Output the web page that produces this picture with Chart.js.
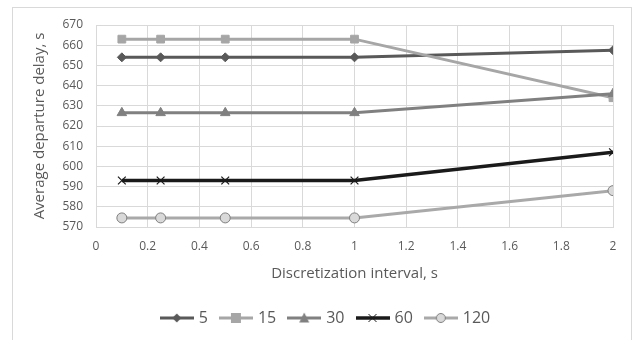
<!DOCTYPE html>
<html>
<head>
<meta charset="utf-8">
<script src="https://cdn.jsdelivr.net/npm/chart.js@4/dist/chart.umd.min.js"></script>
<style>
  html, body { margin: 0; padding: 0; background: #fff; overflow: hidden; }
  #frame { position: absolute; left: 12px; top: 7px; width: 620px; height: 400px; border: 1px solid #d9d9d9; box-sizing: border-box; }
  #chart { position: absolute; left: 0; top: 0; }
</style>
</head>
<body>
<div id="frame"></div>
<canvas id="chart" width="636" height="340"></canvas>
<script>
// discretization interval (s) on the x axis
const intervals = [0.1, 0.25, 0.5, 1, 2];
const seriesNames = ["5", "15", "30", "60", "120"];
const delay5 = [654, 654, 654, 654, 657.5];
const delay15 = [663, 663, 663, 663, 634];
const delay30 = [626.5, 626.5, 626.5, 626.5, 636];
const delay60 = [593, 593, 593, 593, 607];
const delay120 = [574.5, 574.5, 574.5, 574.5, 588];
const xTicks = [0, 0.2, 0.4, 0.6, 0.8, 1, 1.2, 1.4, 1.6, 1.8, 2];
const yTicks = [570, 580, 590, 600, 610, 620, 630, 640, 650, 660, 670];

const textColor = "#595959";
const gridColor = "#d9d9d9";

// legend swatch: line with the marker in the middle, like Excel does it
function legendIcon(lineColor, lineWidth, marker, fill, stroke) {
  const c = document.createElement("canvas");
  c.width = 34; c.height = 14;
  const g = c.getContext("2d");
  g.strokeStyle = lineColor;
  g.lineWidth = lineWidth;
  g.beginPath(); g.moveTo(0, 7); g.lineTo(34, 7); g.stroke();
  g.fillStyle = fill;
  g.strokeStyle = stroke;
  g.lineWidth = 1;
  g.beginPath();
  if (marker === "diamond") {
    g.moveTo(17, 2.5); g.lineTo(21.5, 7); g.lineTo(17, 11.5); g.lineTo(12.5, 7); g.closePath(); g.fill();
  } else if (marker === "square") {
    g.fillRect(12, 2, 10, 10);
  } else if (marker === "triangle") {
    g.moveTo(17, 1.5); g.lineTo(22, 11.5); g.lineTo(12, 11.5); g.closePath(); g.fill();
  } else if (marker === "x") {
    g.moveTo(13, 3); g.lineTo(21, 11); g.moveTo(21, 3); g.lineTo(13, 11); g.stroke();
  } else if (marker === "circle") {
    g.arc(17, 7, 4.5, 0, Math.PI * 2); g.fill(); g.stroke();
  }
  return c;
}

const styles = [
  { color: "#595959", width: 3, point: "rectRot", radius: 4.5, fill: "#595959", border: "#595959", icon: "diamond" },
  { color: "#a6a6a6", width: 3, point: "rect", radius: 5.5, fill: "#a6a6a6", border: "#a6a6a6", icon: "square" },
  { color: "#808080", width: 3, point: "triangle", radius: 5.5, fill: "#808080", border: "#808080", icon: "triangle" },
  { color: "#1a1a1a", width: 3.5, point: "crossRot", radius: 5.5, fill: "#1a1a1a", border: "#1a1a1a", icon: "x" },
  { color: "#a9a9a9", width: 3, point: "circle", radius: 5, fill: "#d9d9d9", border: "#7f7f7f", icon: "circle" }
];
const values = [delay5, delay15, delay30, delay60, delay120];

const datasets = seriesNames.map((name, i) => {
  const s = styles[i];
  return {
    label: name,
    data: intervals.map((x, j) => ({ x: x, y: values[i][j] })),
    borderColor: s.color,
    borderWidth: s.width,
    backgroundColor: s.fill,
    pointStyle: s.point,
    pointRadius: s.radius,
    pointBackgroundColor: s.fill,
    pointBorderColor: s.border,
    pointBorderWidth: s.icon === "x" ? 1.2 : 1,
    tension: 0,
    order: seriesNames.length - i,
    legendIcon: legendIcon(s.color, s.width, s.icon, s.fill, s.border)
  };
});

// the legend sits a bit right of the canvas centre in the original
const legendShift = {
  id: "legendShift",
  afterLayout(chart) {
    chart.legend.left += 20;
    chart.legend.right += 20;
  }
};

new Chart(document.getElementById("chart").getContext("2d"), {
  type: "line",
  data: { datasets: datasets },
  plugins: [legendShift],
  options: {
    responsive: false,
    animation: false,
    layout: { padding: { left: 0, right: 23, top: 25, bottom: 4 } },
    plugins: {
      tooltip: { enabled: false },
      legend: {
        position: "bottom",
        labels: {
          color: textColor,
          font: { family: "'Open Sans', sans-serif", size: 16 },
          usePointStyle: true,
          pointStyleWidth: 28,
          boxHeight: 14,
          padding: 14,
          generateLabels: function (chart) {
            return chart.data.datasets.map((ds, i) => ({
              text: ds.label,
              datasetIndex: i,
              pointStyle: ds.legendIcon,
              fillStyle: "rgba(0,0,0,0)",
              strokeStyle: "rgba(0,0,0,0)",
              lineWidth: 0,
              fontColor: textColor,
              hidden: false
            }));
          }
        }
      }
    },
    scales: {
      x: {
        type: "linear",
        min: 0,
        max: 2,
        afterBuildTicks: axis => { axis.ticks = xTicks.map(v => ({ value: v })); },
        afterFit: axis => { axis.height = 69; },
        grid: { color: gridColor, drawTicks: false },
        border: { color: gridColor },
        ticks: {
          color: textColor,
          font: { family: "'Open Sans', sans-serif", size: 12 },
          padding: 12,
          maxRotation: 0,
          callback: v => String(v)
        },
        title: {
          display: true,
          text: "Discretization interval, s",
          color: textColor,
          font: { family: "'Open Sans', sans-serif", size: 15 },
          padding: { top: 0, bottom: 13 }
        }
      },
      y: {
        min: 570,
        max: 670,
        afterBuildTicks: axis => { axis.ticks = yTicks.map(v => ({ value: v })); },
        afterFit: axis => { axis.width = 96; },
        grid: { color: gridColor, drawTicks: false },
        border: { display: false },
        ticks: {
          color: textColor,
          font: { family: "'Open Sans', sans-serif", size: 12 },
          padding: 13
        },
        title: {
          display: true,
          text: "Average departure delay, s",
          color: textColor,
          font: { family: "'Open Sans', sans-serif", size: 15 },
          padding: { top: 31, bottom: 0 }
        }
      }
    }
  }
});
</script>
</body>
</html>
